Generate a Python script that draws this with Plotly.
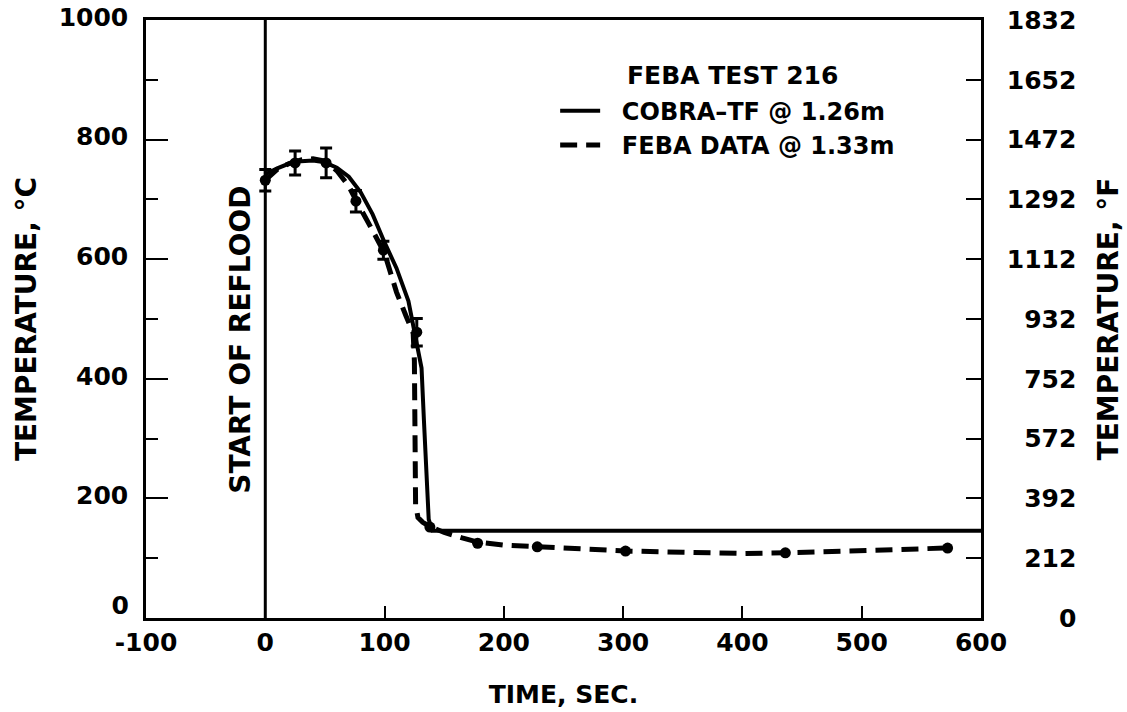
import plotly.graph_objects as go

# ---------------- data ----------------
# COBRA-TF prediction (solid line)
cobra_t = [0, 10, 20, 30, 40, 50, 60, 70, 80, 90, 100, 110, 120, 125, 129, 131, 133, 135, 137, 140, 600]
cobra_T = [742, 752, 760, 764, 765, 762, 753, 738, 712, 675, 628, 585, 530, 482, 440, 418, 330, 240, 165, 146, 146]

# FEBA data fit curve (dashed line)
feba_t = [0, 10, 20, 30, 40, 50, 60, 70, 76, 85, 91, 100, 110, 118, 124, 125, 125.5, 126, 128, 132, 138,
          150, 165, 178, 200, 228, 260, 302, 350, 400, 436, 500, 540, 572]
feba_T = [732, 750, 760, 766, 768, 764, 748, 722, 699, 668, 644, 610, 545, 505, 476, 430, 300, 190, 168, 160, 153,
          143, 134, 127, 122, 119, 115, 112, 110, 108, 109, 112, 115, 117]

# FEBA measured points with error bars
pts_err_t = [0, 25, 51, 76, 99, 127]
pts_err_T = [732, 761, 761, 697, 615, 478]
pts_err = [18, 20, 25, 18, 15, 23]

# FEBA measured points without error bars
pts_t = [138, 178, 228, 302, 436, 572]
pts_T = [152, 125, 119, 112, 109, 117]

# axes
x_ticks = [-100, 0, 100, 200, 300, 400, 500, 600]
x_labels = ["-100", "0", "100", "200", "300", "400", "500", "600"]
y_ticks = [200, 400, 600, 800, 1000]
y_zero = [0]
y_minor = [100, 300, 500, 700, 900]
y2_ticks = [0, 100, 200, 300, 400, 500, 600, 700, 800, 900, 1000]
y2_labels = ["0", "212", "392", "572", "752", "932", "1112", "1292", "1472", "1652", "1832"]

FS = "\u2007"  # figure space for right-aligned labels
y2_text = [FS * (4 - len(s)) + s for s in y2_labels]

FONT = "DejaVu Sans"
BOLD = dict(family=FONT, size=25, color="black", weight="bold")
TITLE = dict(family=FONT, size=28, color="black", weight="bold")
NB = "\u00a0\u00a0"

fig = go.Figure()

fig.add_trace(go.Scatter(
    x=cobra_t, y=cobra_T, mode="lines", name=NB + "COBRA\u2013TF @ 1.26m",
    line=dict(color="black", width=4), hoverinfo="skip"))

fig.add_trace(go.Scatter(
    x=feba_t, y=feba_T, mode="lines", name=NB + "FEBA DATA @ 1.33m",
    line=dict(color="black", width=5, dash="17px,9px"), hoverinfo="skip"))

fig.add_trace(go.Scatter(
    x=pts_err_t, y=pts_err_T, mode="markers", showlegend=False,
    marker=dict(color="black", size=11),
    error_y=dict(type="data", array=pts_err, color="black", thickness=3, width=6),
    hoverinfo="skip"))

fig.add_trace(go.Scatter(
    x=pts_t, y=pts_T, mode="markers", showlegend=False, yaxis="y2",
    marker=dict(color="black", size=11), hoverinfo="skip"))

fig.add_trace(go.Scatter(
    x=[None], y=[None], mode="markers", showlegend=False, yaxis="y3", hoverinfo="skip"))

# start of reflood line
fig.add_vline(x=0, line=dict(color="black", width=3))

fig.add_annotation(
    text="START OF REFLOOD", x=0, xref="x", y=0.465, yref="paper",
    xanchor="right", yanchor="middle", xshift=-6, textangle=-90,
    showarrow=False, font=TITLE)

fig.add_annotation(
    text="FEBA TEST 216", x=0.5737, xref="paper", y=0.908, yref="paper",
    xanchor="left", yanchor="middle", showarrow=False,
    font=dict(family=FONT, size=25, color="black", weight="bold"))

axis_common = dict(showline=True, linewidth=2.5, linecolor="black", showgrid=False,
                   zeroline=False, ticks="inside", tickwidth=2, tickcolor="black",
                   tickfont=BOLD, automargin=False)

fig.update_layout(
    width=1127, height=712,
    margin=dict(l=146, r=146, t=20, b=94),
    plot_bgcolor="white", paper_bgcolor="white",
    font=dict(family=FONT, size=25, color="black"),
    xaxis=dict(range=[-100, 600], tickvals=x_ticks, ticktext=x_labels, ticklen=12, mirror=True,
               title=dict(text="TIME, SEC.", font=BOLD, standoff=30),
               **axis_common),
    yaxis=dict(range=[0, 1000], tickvals=y_ticks, ticklen=22, ticklabelstandoff=10,
               ticklabelshift=-3,
               minor=dict(tickvals=y_minor, ticks="inside", ticklen=12, tickwidth=2, tickcolor="black"),
               title=dict(text="TEMPERATURE, °C", font=TITLE, standoff=14),
               **axis_common),
    yaxis3=dict(range=[0, 1000], overlaying="y", side="left", tickvals=y_zero, ticktext=["0"],
                showline=False, showgrid=False, zeroline=False, ticks="", automargin=False,
                ticklabelstandoff=16, ticklabelshift=-13, tickfont=BOLD),
    yaxis2=dict(range=[0, 1000], overlaying="y", side="right", tickvals=y2_ticks,
                ticktext=y2_text, ticklen=15, ticklabelstandoff=18,
                title=dict(text="TEMPERATURE, °F", font=TITLE, standoff=24),
                **axis_common),
    legend=dict(x=0.49, y=0.885, xanchor="left", yanchor="top", bgcolor="rgba(0,0,0,0)",
                font=dict(family=FONT, size=24, color="black", weight="bold"),
                itemwidth=40, tracegroupgap=0),
    showlegend=True,
)

fig.write_html("out.html")
